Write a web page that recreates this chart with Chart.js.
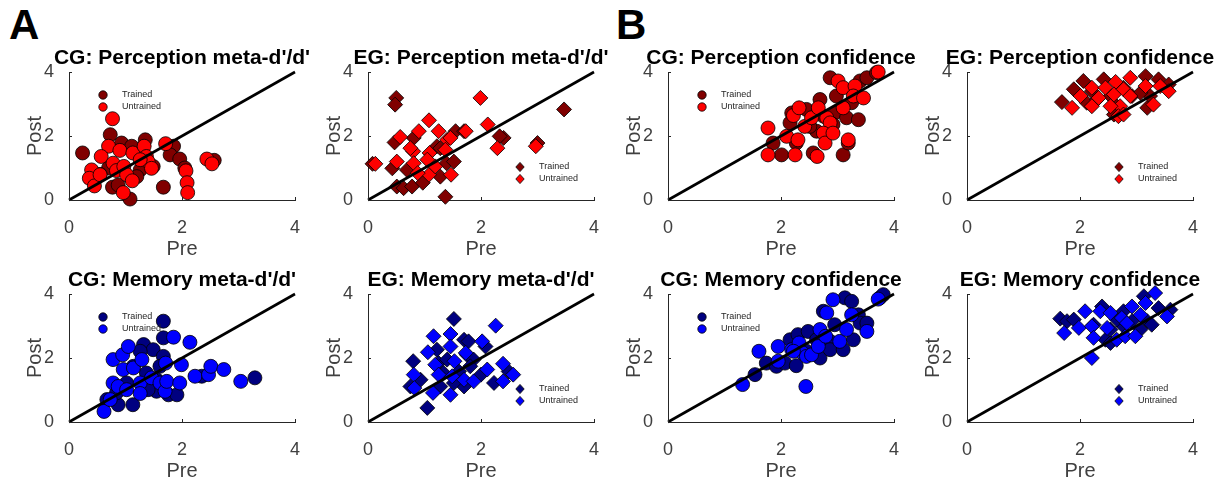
<!DOCTYPE html>
<html lang="en">
<head>
<meta charset="utf-8">
<title>Pre vs Post</title>
<script src="https://cdn.jsdelivr.net/npm/chart.js@4.4.0/dist/chart.umd.min.js"></script>
<style>
  body { margin: 0; background: #fff; width: 1224px; height: 483px; position: relative; overflow: hidden; }
  canvas { position: absolute; }
  .tag { position: absolute; font: bold 42px "Liberation Sans", Arial, sans-serif; line-height: 42px; color: #000; }
</style>
</head>
<body>
<div class="tag" style="left:9px;top:4px">A</div>
<div class="tag" style="left:616px;top:4px">B</div>

<script>
// axis range + identity line
const identityLine = [0, 4];
const axisTicks = [0, 2, 4];

// [pre, post] pairs
const cgPercMetaTrained = [[0.24,1.47],[0.73,2.04],[0.77,0.40],[0.87,0.47],[1.08,0.03],[1.67,0.40],[1.35,1.88],[1.85,1.68],
  [1.79,1.41],[1.96,1.28],[2.57,1.24],[0.93,1.78],[1.11,1.68],[1.49,1.05],[1.26,0.94],[1.20,0.73],[2.05,1.00],[0.70,1.00],[0.55,0.80]];
const cgPercMetaUntrained = [[0.77,2.54],[0.70,1.68],[0.90,1.55],[1.13,1.47],[1.33,1.68],[1.71,1.76],[0.57,1.36],[0.40,0.94],
  [0.36,0.68],[0.45,0.44],[0.55,0.79],[0.78,1.15],[0.84,0.92],[0.97,1.05],[1.02,0.79],[1.12,0.60],[0.96,0.23],[1.37,1.36],
  [1.40,1.20],[1.46,0.99],[2.07,0.91],[2.09,0.54],[2.10,0.23],[2.44,1.28],[2.53,1.13],[1.26,1.26]];

const egPercMetaTrained = [[0.50,3.19],[0.48,2.98],[0.47,1.80],[0.43,0.99],[0.51,0.42],[0.63,0.37],[0.78,0.42],[0.69,0.94],
  [0.81,1.94],[0.97,0.54],[1.22,1.68],[1.28,0.73],[1.37,0.10],[1.39,1.15],[1.52,1.20],[1.55,2.15],[1.70,2.15],[2.40,1.94],
  [2.33,1.99],[3.00,1.78],[3.47,2.83],[1.28,1.62],[0.08,1.13]];
const egPercMetaUntrained = [[0.13,1.13],[0.51,1.20],[0.57,1.97],[0.90,2.15],[1.08,2.49],[1.25,2.15],[1.40,1.88],[1.46,1.94],
  [1.99,3.19],[2.12,2.36],[2.29,1.62],[2.97,1.68],[1.73,2.15],[0.80,1.52],[0.75,1.62],[0.81,1.15],[1.09,1.47],[1.08,0.79],
  [0.88,0.84],[1.19,1.05],[1.37,1.57],[1.47,0.79],[1.05,1.26]];

const cgPercConfTrained = [[1.86,1.78],[2.01,1.41],[2.16,2.41],[2.27,1.78],[2.19,2.72],[2.45,2.83],[2.69,3.14],[2.63,2.15],
  [2.57,1.47],[2.87,3.82],[2.98,3.25],[2.95,2.72],[2.92,2.36],[3.10,1.41],[3.16,2.57],[3.25,3.04],[3.40,3.72],[3.52,3.82],
  [3.69,3.98],[3.37,2.51],[3.19,1.78],[2.51,2.30],[2.75,2.62]];
const cgPercConfUntrained = [[1.77,2.25],[1.77,1.41],[2.25,1.41],[2.10,1.99],[2.30,1.88],[2.22,2.64],[2.32,2.88],[2.42,2.30],
  [2.54,2.57],[2.66,2.88],[2.81,2.57],[2.87,2.41],[2.75,2.09],[2.78,1.78],[2.64,1.36],[2.92,2.09],[3.10,2.88],[3.01,3.72],
  [3.10,3.51],[3.31,3.56],[3.28,3.25],[3.46,3.19],[3.72,4.00],[3.19,1.88]];

const egPercConfTrained = [[1.68,3.06],[1.89,3.46],[2.06,3.72],[2.21,3.40],[2.42,3.77],[2.54,3.25],[2.65,2.93],[2.77,3.51],
  [2.92,3.25],[3.16,3.87],[3.19,2.88],[3.24,3.25],[3.39,3.77],[3.57,3.61],[3.07,3.35],[2.12,3.04],[2.60,2.67],[2.30,3.14]];
const egPercConfUntrained = [[1.86,2.88],[2.01,3.25],[2.21,3.51],[2.21,2.93],[2.33,3.19],[2.45,3.51],[2.63,3.69],[2.60,3.30],
  [2.71,2.93],[2.77,3.46],[2.89,3.82],[2.89,3.25],[2.68,2.62],[2.77,2.67],[3.16,3.56],[3.30,2.98],[3.42,3.56],[3.57,3.40],[2.54,2.93]];

const cgMemMetaTrained = [[1.67,3.15],[1.67,2.63],[1.32,2.42],[1.49,2.26],[1.26,2.21],[1.67,2.05],[1.14,1.74],[1.37,1.53],
  [1.61,1.74],[1.55,1.32],[1.55,0.96],[1.76,0.85],[1.91,0.85],[0.87,0.54],[1.13,0.54],[0.67,0.70],[3.29,1.38],[2.35,1.43],
  [1.40,1.01],[1.02,1.22],[0.84,0.91]];
const cgMemMetaUntrained = [[0.62,0.33],[0.73,0.70],[0.78,1.95],[0.95,2.10],[1.05,2.36],[0.96,1.64],[0.78,1.22],[0.87,1.11],
  [1.02,1.01],[1.14,1.69],[1.26,1.22],[1.26,0.89],[1.29,1.95],[1.46,1.38],[1.61,1.22],[1.70,0.96],[1.71,1.84],[1.73,1.27],
  [1.85,2.65],[1.96,1.22],[1.99,1.79],[2.14,2.49],[2.23,1.43],[2.47,1.48],[2.51,1.74],[2.74,1.64],[3.04,1.27]];

const egMemMetaTrained = [[1.52,3.22],[0.80,1.90],[0.75,1.11],[1.05,0.44],[1.22,2.26],[1.25,1.84],[1.34,1.53],[1.70,2.57],
  [1.78,2.52],[1.75,2.10],[1.87,1.95],[2.00,1.48],[2.08,2.36],[2.23,1.22],[2.49,1.58],[1.70,1.11],[1.52,1.22],[1.28,1.11],
  [0.93,1.32],[1.40,1.95],[1.61,1.58],[1.81,1.74]];
const egMemMetaUntrained = [[2.26,3.01],[1.46,2.75],[1.46,2.36],[1.16,2.68],[1.06,2.18],[1.19,1.79],[0.81,1.48],[0.82,1.06],
  [1.15,0.91],[1.25,1.48],[1.49,1.43],[1.53,1.90],[1.46,0.85],[1.70,1.32],[1.73,2.16],[1.87,1.27],[2.02,2.52],[2.11,1.64],
  [2.39,1.82],[2.39,1.27],[2.57,1.48]];

const cgMemConfTrained = [[1.54,1.48],[1.74,1.84],[1.92,1.74],[2.07,1.84],[2.27,1.76],[2.16,2.57],[2.30,2.73],[2.48,2.83],
  [2.63,2.57],[2.69,2.00],[2.87,2.52],[2.95,3.04],[2.87,2.26],[3.10,2.26],[3.13,3.88],[3.25,3.77],[3.28,2.57],[3.37,3.35],
  [3.40,3.09],[3.52,3.09],[3.75,3.88],[3.81,3.98],[2.75,3.46],[2.45,2.21]];
const cgMemConfUntrained = [[1.32,1.17],[1.61,2.21],[1.95,2.36],[1.95,1.90],[2.19,2.26],[2.32,2.47],[2.44,1.11],[2.38,2.16],
  [2.45,2.05],[2.54,2.10],[2.66,2.36],[2.69,2.89],[2.81,3.41],[2.79,2.68],[2.92,3.82],[3.04,2.52],[3.16,2.89],[3.25,3.35],
  [3.52,2.83],[3.72,3.84],[2.22,2.21]];

const egMemConfTrained = [[1.65,3.23],[1.77,3.15],[1.89,3.20],[2.39,3.61],[2.24,3.04],[2.45,2.57],[2.54,2.47],[2.77,3.46],
  [2.77,2.99],[2.92,3.15],[3.13,3.93],[3.19,3.15],[3.27,3.04],[3.39,3.56],[3.60,3.51],[3.07,2.89],[2.54,2.89],[2.65,3.20]];
const egMemConfUntrained = [[1.72,2.78],[1.98,2.94],[2.09,3.46],[2.21,2.99],[2.21,2.00],[2.24,2.63],[2.36,3.46],[2.48,2.94],
  [2.54,3.41],[2.65,2.57],[2.74,3.25],[2.80,2.68],[2.92,3.61],[2.98,2.68],[3.07,3.35],[3.16,3.72],[3.33,4.03],[3.54,3.30],[2.83,3.09]];

const RED = ['#800000', '#ff0000'];
const BLUE = ['#000080', '#0000ff'];

const panels = [
  { title: "CG: Perception meta-d'/d'", left: 69, top: 72, trained: cgPercMetaTrained, untrained: cgPercMetaUntrained, col: RED, shape: 'circle', legend: 'tl' },
  { title: "EG: Perception meta-d'/d'", left: 368, top: 72, trained: egPercMetaTrained, untrained: egPercMetaUntrained, col: RED, shape: 'rectRot', legend: 'br' },
  { title: "CG: Perception confidence", left: 668, top: 72, trained: cgPercConfTrained, untrained: cgPercConfUntrained, col: RED, shape: 'circle', legend: 'tl' },
  { title: "EG: Perception confidence", left: 967, top: 72, trained: egPercConfTrained, untrained: egPercConfUntrained, col: RED, shape: 'rectRot', legend: 'br' },
  { title: "CG: Memory meta-d'/d'", left: 69, top: 294, trained: cgMemMetaTrained, untrained: cgMemMetaUntrained, col: BLUE, shape: 'circle', legend: 'tl' },
  { title: "EG: Memory meta-d'/d'", left: 368, top: 294, trained: egMemMetaTrained, untrained: egMemMetaUntrained, col: BLUE, shape: 'rectRot', legend: 'br' },
  { title: "CG: Memory confidence", left: 668, top: 294, trained: cgMemConfTrained, untrained: cgMemConfUntrained, col: BLUE, shape: 'circle', legend: 'tl' },
  { title: "EG: Memory confidence", left: 967, top: 294, trained: egMemConfTrained, untrained: egMemConfUntrained, col: BLUE, shape: 'rectRot', legend: 'br' }
];

const FONT = '"Liberation Sans", Arial, sans-serif';
const YW = 50, XH = 62, PT = 32, PR = 30, AW = 226, AH = 128;

function marker(ctx, shape, x, y, r, fill) {
  ctx.beginPath();
  if (shape === 'circle') {
    ctx.arc(x, y, r, 0, Math.PI * 2);
  } else {
    ctx.moveTo(x, y - r * 1.1); ctx.lineTo(x + r, y); ctx.lineTo(x, y + r * 1.1); ctx.lineTo(x - r, y);
    ctx.closePath();
  }
  ctx.fillStyle = fill;
  ctx.fill();
  ctx.lineWidth = 0.8;
  ctx.strokeStyle = '#000';
  ctx.stroke();
}

// title, inward ticks and the little legend, MATLAB style
const decor = {
  id: 'decor',
  afterDraw(chart, args, o) {
    const ctx = chart.ctx, a = chart.chartArea;
    const sx = chart.scales.x, sy = chart.scales.y;
    ctx.save();
    ctx.strokeStyle = '#262626';
    ctx.lineWidth = 1;
    axisTicks.forEach(v => {
      const px = Math.round(sx.getPixelForValue(v)) + 0.5;
      const py = Math.round(sy.getPixelForValue(v)) + 0.5;
      ctx.beginPath();
      ctx.moveTo(px, a.bottom); ctx.lineTo(px, a.bottom - 3);
      ctx.moveTo(a.left, py); ctx.lineTo(a.left + 3, py);
      ctx.stroke();
    });

    ctx.font = 'bold 21px ' + FONT;
    ctx.fillStyle = '#000';
    ctx.textAlign = 'center';
    ctx.textBaseline = 'alphabetic';
    ctx.fillText(o.title, (a.left + a.right) / 2, a.top - 8);

    const lx = o.legend === 'tl' ? a.left + 34 : a.left + 152;
    const ly = o.legend === 'tl' ? a.top + 23 : a.top + 95;
    ctx.font = '9px ' + FONT;
    ctx.textAlign = 'left';
    ctx.textBaseline = 'middle';
    ['Trained', 'Untrained'].forEach((t, i) => {
      marker(ctx, o.shape, lx, ly + i * 12, 4.2, o.col[i]);
      ctx.fillStyle = '#262626';
      ctx.fillText(t, lx + 19, ly + i * 12);
    });
    ctx.restore();
  }
};

const toXY = arr => arr.map(p => ({ x: p[0], y: p[1] }));

panels.forEach(p => {
  const cv = document.createElement('canvas');
  cv.width = YW + AW + PR;
  cv.height = PT + AH + XH;
  cv.style.left = (p.left - YW) + 'px';
  cv.style.top = (p.top - PT) + 'px';
  document.body.appendChild(cv);

  const r = p.shape === 'circle' ? 7 : 7.5;
  const scatterSet = (label, data, color, order) => ({
    type: 'scatter', label, data: toXY(data), order,
    backgroundColor: color, borderColor: '#000', borderWidth: 0.8,
    pointStyle: p.shape, pointRadius: r, pointHoverRadius: r, clip: false
  });

  new Chart(cv, {
    type: 'scatter',
    data: {
      datasets: [
        { type: 'line', label: 'identity', data: identityLine.map(v => ({ x: v, y: v })), order: 0,
          borderColor: '#000', borderWidth: 2.6, pointRadius: 0, fill: false, clip: false },
        scatterSet('Untrained', p.untrained, p.col[1], 1),
        scatterSet('Trained', p.trained, p.col[0], 2)
      ]
    },
    options: {
      responsive: false,
      animation: false,
      events: [],
      layout: { padding: { top: PT, right: PR, left: 0, bottom: 0 } },
      plugins: {
        legend: { display: false },
        tooltip: { enabled: false },
        decor: { title: p.title, legend: p.legend, shape: p.shape, col: p.col }
      },
      scales: {
        x: {
          type: 'linear', min: 0, max: 4,
          grid: { display: false },
          border: { color: '#262626', width: 1 },
          ticks: { stepSize: 2, color: '#404040', padding: 9, maxRotation: 0, font: { size: 18, family: FONT } },
          title: { display: true, text: 'Pre', color: '#404040', font: { size: 20, family: FONT }, padding: { top: 0, bottom: 1 } },
          afterFit: s => { s.height = XH; }
        },
        y: {
          type: 'linear', min: 0, max: 4,
          grid: { display: false },
          border: { color: '#262626', width: 1 },
          ticks: { stepSize: 2, color: '#404040', padding: 7, font: { size: 18, family: FONT } },
          title: { display: true, text: 'Post', color: '#404040', font: { size: 20, family: FONT }, padding: { top: 4, bottom: 0 } },
          afterFit: s => { s.width = YW; }
        }
      }
    },
    plugins: [decor]
  });
});
</script>
</body>
</html>
